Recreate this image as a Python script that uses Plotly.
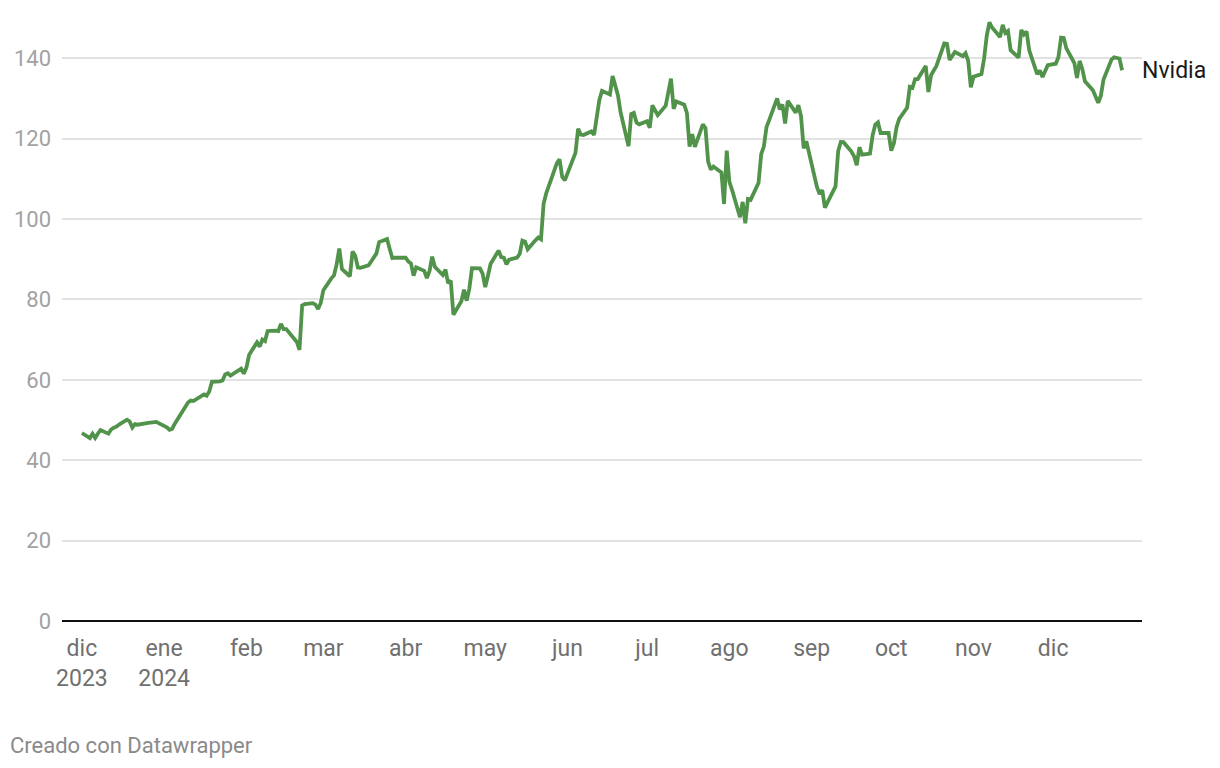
import plotly.graph_objects as go

# Trading days (Dec 2023 - Dec 2024) and Nvidia closing prices (USD, split-adjusted)
dates = [
    "2023-12-01","2023-12-04","2023-12-05","2023-12-06","2023-12-07","2023-12-08","2023-12-11","2023-12-12",
    "2023-12-13","2023-12-14","2023-12-15","2023-12-18","2023-12-19","2023-12-20","2023-12-21","2023-12-22",
    "2023-12-26","2023-12-27","2023-12-28","2023-12-29",
    "2024-01-02","2024-01-03","2024-01-04","2024-01-05","2024-01-08","2024-01-09","2024-01-10","2024-01-11",
    "2024-01-12","2024-01-16","2024-01-17","2024-01-18","2024-01-19","2024-01-22","2024-01-23","2024-01-24",
    "2024-01-25","2024-01-26","2024-01-29","2024-01-30","2024-01-31",
    "2024-02-01","2024-02-02","2024-02-05","2024-02-06","2024-02-07","2024-02-08","2024-02-09","2024-02-12",
    "2024-02-13","2024-02-14","2024-02-15","2024-02-16","2024-02-20","2024-02-21","2024-02-22","2024-02-23",
    "2024-02-26","2024-02-27","2024-02-28","2024-02-29",
    "2024-03-01","2024-03-04","2024-03-05","2024-03-06","2024-03-07","2024-03-08","2024-03-11","2024-03-12",
    "2024-03-13","2024-03-14","2024-03-15","2024-03-18","2024-03-19","2024-03-20","2024-03-21","2024-03-22",
    "2024-03-25","2024-03-26","2024-03-27","2024-03-28",
    "2024-04-01","2024-04-02","2024-04-03","2024-04-04","2024-04-05","2024-04-08","2024-04-09","2024-04-10",
    "2024-04-11","2024-04-12","2024-04-15","2024-04-16","2024-04-17","2024-04-18","2024-04-19","2024-04-22",
    "2024-04-23","2024-04-24","2024-04-25","2024-04-26","2024-04-29","2024-04-30",
    "2024-05-01","2024-05-02","2024-05-03","2024-05-06","2024-05-07","2024-05-08","2024-05-09","2024-05-10",
    "2024-05-13","2024-05-14","2024-05-15","2024-05-16","2024-05-17","2024-05-20","2024-05-21","2024-05-22",
    "2024-05-23","2024-05-24","2024-05-28","2024-05-29","2024-05-30","2024-05-31",
    "2024-06-03","2024-06-04","2024-06-05","2024-06-06","2024-06-07","2024-06-10","2024-06-11","2024-06-12",
    "2024-06-13","2024-06-14","2024-06-17","2024-06-18","2024-06-20","2024-06-21","2024-06-24","2024-06-25",
    "2024-06-26","2024-06-27","2024-06-28",
    "2024-07-01","2024-07-02","2024-07-03","2024-07-05","2024-07-08","2024-07-09","2024-07-10","2024-07-11",
    "2024-07-12","2024-07-15","2024-07-16","2024-07-17","2024-07-18","2024-07-19","2024-07-22","2024-07-23",
    "2024-07-24","2024-07-25","2024-07-26","2024-07-29","2024-07-30","2024-07-31",
    "2024-08-01","2024-08-02","2024-08-05","2024-08-06","2024-08-07","2024-08-08","2024-08-09","2024-08-12",
    "2024-08-13","2024-08-14","2024-08-15","2024-08-16","2024-08-19","2024-08-20","2024-08-21","2024-08-22",
    "2024-08-23","2024-08-26","2024-08-27","2024-08-28","2024-08-29","2024-08-30",
    "2024-09-03","2024-09-04","2024-09-05","2024-09-06","2024-09-09","2024-09-10","2024-09-11","2024-09-12",
    "2024-09-13","2024-09-16","2024-09-17","2024-09-18","2024-09-19","2024-09-20","2024-09-23","2024-09-24",
    "2024-09-25","2024-09-26","2024-09-27","2024-09-30",
    "2024-10-01","2024-10-02","2024-10-03","2024-10-04","2024-10-07","2024-10-08","2024-10-09","2024-10-10",
    "2024-10-11","2024-10-14","2024-10-15","2024-10-16","2024-10-17","2024-10-18","2024-10-21","2024-10-22",
    "2024-10-23","2024-10-24","2024-10-25","2024-10-28","2024-10-29","2024-10-30","2024-10-31",
    "2024-11-01","2024-11-04","2024-11-05","2024-11-06","2024-11-07","2024-11-08","2024-11-11","2024-11-12",
    "2024-11-13","2024-11-14","2024-11-15","2024-11-18","2024-11-19","2024-11-20","2024-11-21","2024-11-22",
    "2024-11-25","2024-11-26","2024-11-27","2024-11-29",
    "2024-12-02","2024-12-03","2024-12-04","2024-12-05","2024-12-06","2024-12-09","2024-12-10","2024-12-11",
    "2024-12-12","2024-12-13","2024-12-16","2024-12-17","2024-12-18","2024-12-19","2024-12-20","2024-12-23",
    "2024-12-24","2024-12-26","2024-12-27",
]

prices = [
    46.77, 45.51, 46.58, 45.52, 46.59, 47.51, 46.60, 47.62,
    48.09, 48.34, 48.88, 50.08, 49.61, 48.11, 48.98, 48.83,
    49.28, 49.42, 49.52, 49.52,
    48.17, 47.57, 47.80, 49.07, 52.25, 53.14, 54.35, 54.82,
    54.72, 56.38, 56.05, 57.11, 59.49, 59.62, 59.82, 61.35,
    61.63, 61.03, 62.43, 62.77, 61.53,
    63.03, 66.16, 69.33, 68.24, 70.01, 69.64, 72.13, 72.23,
    72.13, 73.90, 72.63, 72.60, 69.42, 67.47, 78.51, 78.81,
    79.07, 78.71, 77.63, 79.11,
    82.28, 85.24, 85.96, 88.70, 92.67, 87.53, 85.76, 91.91,
    90.87, 87.94, 87.84, 88.45, 89.38, 90.36, 91.44, 94.26,
    95.00, 92.56, 90.25, 90.36,
    90.36, 89.44, 88.96, 85.91, 88.00, 87.11, 85.32, 87.04,
    90.62, 88.12, 86.05, 87.41, 84.06, 84.67, 76.20, 79.52,
    82.44, 79.68, 82.64, 87.76, 87.74, 86.40,
    83.04, 85.82, 88.79, 92.14, 90.55, 90.41, 88.75, 89.87,
    90.39, 91.36, 94.63, 94.36, 92.48, 94.78, 95.39, 94.95,
    103.80, 106.47, 113.90, 114.83, 110.50, 109.63,
    115.00, 116.44, 122.44, 120.99, 120.89, 121.79, 120.91, 125.20,
    129.61, 131.88, 130.98, 135.58, 130.78, 126.57, 118.11, 126.09,
    126.40, 123.99, 123.54,
    124.30, 122.67, 128.28, 125.83, 128.20, 131.38, 134.91, 127.40,
    129.24, 128.44, 126.36, 117.99, 121.09, 117.93, 123.54, 122.59,
    114.25, 112.28, 113.06, 111.59, 103.73, 117.02,
    109.21, 107.27, 100.45, 104.25, 98.91, 104.97, 104.75, 109.02,
    116.14, 118.08, 122.86, 124.58, 130.00, 127.25, 128.50, 123.74,
    129.37, 126.46, 128.30, 125.61, 117.59, 119.37,
    108.00, 106.21, 107.21, 102.83, 106.47, 108.10, 116.91, 119.14,
    119.10, 116.78, 115.59, 113.37, 117.87, 116.00, 116.26, 120.87,
    123.51, 124.04, 121.40, 121.44,
    117.00, 118.85, 122.85, 124.92, 127.72, 132.89, 132.65, 134.81,
    134.80, 138.07, 131.60, 135.72, 136.93, 138.00, 143.71, 143.59,
    139.56, 140.41, 141.54, 140.52, 141.25, 139.34, 132.76,
    135.40, 136.05, 139.91, 145.61, 148.88, 147.63, 145.26, 148.29,
    146.27, 146.76, 141.98, 140.15, 147.01, 145.89, 146.67, 141.95,
    136.02, 136.92, 135.34, 138.25,
    138.63, 140.26, 145.14, 145.06, 142.44, 138.81, 135.07, 139.31,
    137.34, 134.25, 132.00, 130.39, 128.91, 130.68, 134.70, 139.67,
    140.22, 139.93, 137.01,
]

series_name = "Nvidia"

month_ticks = ["2023-12-01","2024-01-01","2024-02-01","2024-03-01","2024-04-01","2024-05-01","2024-06-01",
               "2024-07-01","2024-08-01","2024-09-01","2024-10-01","2024-11-01","2024-12-01"]
month_labels = ["dic<br>2023","ene<br>2024","feb","mar","abr","may","jun",
                "jul","ago","sep","oct","nov","dic"]
y_ticks = [0, 20, 40, 60, 80, 100, 120, 140]

FONT = "Roboto, 'Noto Sans', sans-serif"

fig = go.Figure()
fig.add_trace(go.Scatter(
    x=dates, y=prices, mode="lines", name=series_name,
    line=dict(color="#51934a", width=3.8),
    hoverinfo="x+y",
))

fig.add_annotation(
    x=dates[-1], y=prices[-1], text=series_name, showarrow=False,
    xanchor="left", yanchor="middle", xshift=18,
    font=dict(family=FONT, size=23, color="#1a1a1a"),
)

fig.add_annotation(
    x=0, y=0, xref="paper", yref="paper", xanchor="left", yanchor="middle",
    text="Creado con Datawrapper", showarrow=False,
    xshift=-54, yshift=-124,
    font=dict(family=FONT, size=22, color="#8a8a8a"),
)

fig.update_layout(
    width=1220, height=768,
    margin=dict(l=62, r=78, t=18, b=147),
    paper_bgcolor="white", plot_bgcolor="white",
    showlegend=False,
    font=dict(family=FONT),
    xaxis=dict(
        type="date",
        range=["2023-11-23 12:00", "2025-01-03 12:00"],
        tickvals=month_ticks, ticktext=month_labels,
        showgrid=False, zeroline=False, showline=False,
        ticks="", ticklabelstandoff=11,
        tickfont=dict(family=FONT, size=23, color="#707070"),
    ),
    yaxis=dict(
        range=[0, 150], tickvals=y_ticks,
        showgrid=True, gridcolor="#e2e2e2", gridwidth=1.5,
        zeroline=True, zerolinecolor="#111111", zerolinewidth=2,
        showline=False, ticks="", ticklabelstandoff=10,
        tickfont=dict(family=FONT, size=22, color="#a2a2a2"),
    ),
)

fig.write_html("out.html", config={"displayModeBar": False},
               post_script="document.body.style.margin='0';document.body.style.overflow='hidden';")
